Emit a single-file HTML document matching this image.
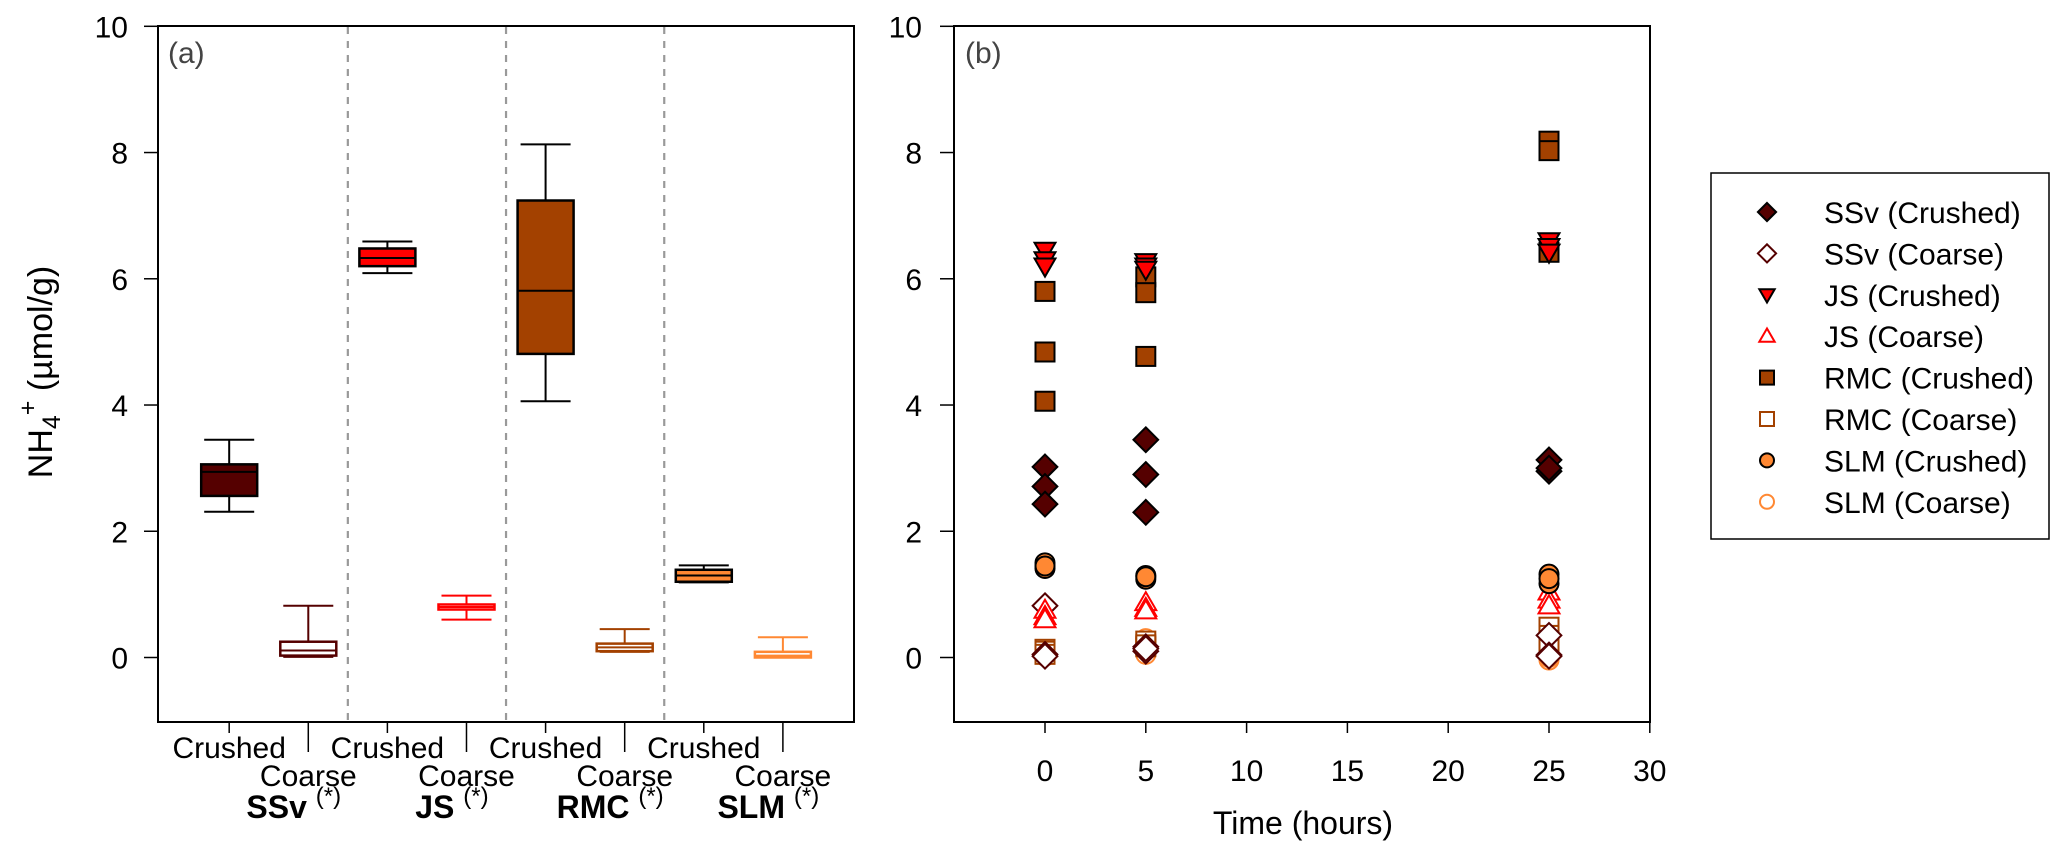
<!DOCTYPE html>
<html><head><meta charset="utf-8"><style>
html,body{margin:0;padding:0;background:#fff;}
svg{display:block;font-family:"Liberation Sans",sans-serif;}
</style></head><body>
<svg id="chart" width="2067" height="859" viewBox="0 0 2067 859" xmlns="http://www.w3.org/2000/svg">
<rect x="0" y="0" width="2067" height="859" fill="#fff"/>
<g id="pa"></g>
<g id="pb"></g>
<g id="lg"></g>
</svg>
<script>
// ---- data ----
const groups = ["SSv", "JS", "RMC", "SLM"];
const sizes = ["Crushed", "Coarse"];
const boxColors = ["#550000", "#550000", "#ff0000", "#ff0000", "#a34100", "#a34100", "#ff8833", "#ff8833"];
const boxLow =  [2.31, 0.01, 6.09, 0.60, 4.06, 0.09, 1.19, 0.00];
const boxQ1 =   [2.56, 0.03, 6.20, 0.76, 4.81, 0.10, 1.20, 0.00];
const boxMed =  [2.94, 0.11, 6.33, 0.80, 5.81, 0.16, 1.30, 0.03];
const boxQ3 =   [3.06, 0.25, 6.48, 0.84, 7.24, 0.22, 1.39, 0.09];
const boxHigh = [3.45, 0.82, 6.59, 0.98, 8.13, 0.45, 1.46, 0.32];
const yTicks = [0, 2, 4, 6, 8, 10];
const xTicksB = [0, 5, 10, 15, 20, 25, 30];
const times = [0, 5, 25];
const seriesNames = ["SSv (Crushed)", "SSv (Coarse)", "JS (Crushed)", "JS (Coarse)", "RMC (Crushed)", "RMC (Coarse)", "SLM (Crushed)", "SLM (Coarse)"];
const seriesShape = ["diamond", "diamond", "tridown", "triup", "square", "square", "circle", "circle"];
const seriesFilled = [true, false, true, false, true, false, true, false];
const ssvCrushed = [[3.02, 2.71, 2.43], [3.45, 2.90, 2.30], [3.13, 2.95, 3.00]];
const ssvCoarse = [[0.82, 0.05, 0.02], [0.17, 0.10, 0.14], [0.35, 0.04, 0.02]];
const jsCrushed = [[6.45, 6.30, 6.20], [6.27, 6.20, 6.15], [6.60, 6.51, 6.42]];
const jsCoarse = [[0.75, 0.65, 0.60], [0.87, 0.78, 0.74], [1.04, 0.91, 0.82]];
const rmcCrushed = [[5.80, 4.84, 4.06], [6.03, 5.78, 4.77], [8.18, 8.03, 6.42]];
const rmcCoarse = [[0.13, 0.10, 0.05], [0.26, 0.17, 0.20], [0.48, 0.35, 0.20]];
const slmCrushed = [[1.50, 1.41, 1.45], [1.30, 1.24, 1.28], [1.32, 1.17, 1.25]];
const slmCoarse = [[0.05, 0.03, 0.02], [0.30, 0.17, 0.05], [-0.04, 0.00, 0.02]];
const seriesValues = [ssvCrushed, ssvCoarse, jsCrushed, jsCoarse, rmcCrushed, rmcCoarse, slmCrushed, slmCoarse];

// ---- scales ----
const NS = "http://www.w3.org/2000/svg";
const yS = v => 657.5 - v * 63.12;
const xA = i => 158 + (i + 1 - 0.1) * 79.1;
const xB = t => 1045 + t * 20.16;
function mk(tag, attrs, parent) {
  const e = document.createElementNS(NS, tag);
  for (const k in attrs) e.setAttribute(k, attrs[k]);
  parent.appendChild(e);
  return e;
}
const pa = document.getElementById('pa');
const pb = document.getElementById('pb');
const lg = document.getElementById('lg');

function yAxis(parent, left, labelRight) {
  yTicks.forEach(v => {
    const t = mk('line', {x1: left - 14, x2: left, y1: yS(v), y2: yS(v), stroke: '#000', 'stroke-width': 1.5}, parent);
    
    
    const l = mk('text', {x: labelRight, y: yS(v) + 11, 'text-anchor': 'end', 'font-size': 30, fill: '#000'}, parent);
    l.textContent = v;
    
    
  });
}

// ---- Panel A ----
const frameA = mk('rect', {x: 158, y: 26, width: 696, height: 696, fill: 'none', stroke: '#000', 'stroke-width': 2}, pa);


yAxis(pa, 158, 128);
[1.5, 3.5, 5.5].forEach(p => {
  const d = mk('line', {x1: xA(p), x2: xA(p), y1: 27, y2: 721, stroke: '#999', 'stroke-width': 2.2, 'stroke-dasharray': '7,7'}, pa);
  
  
});
const la = mk('text', {x: 168, y: 63, 'font-size': 30, fill: '#444'}, pa);
la.textContent = '(a)';



boxLow.forEach((lo, i) => {
  const g = mk('g', {}, pa);
  
  
  const cx = xA(i), c = boxColors[i], filled = i % 2 === 0;
  const line = filled ? '#000' : c;
  const hw = 28, cw = 25;
  mk('line', {x1: cx, x2: cx, y1: yS(boxHigh[i]), y2: yS(boxQ3[i]), stroke: line, 'stroke-width': 2}, g);
  mk('line', {x1: cx, x2: cx, y1: yS(boxQ1[i]), y2: yS(lo), stroke: line, 'stroke-width': 2}, g);
  mk('line', {x1: cx - cw, x2: cx + cw, y1: yS(boxHigh[i]), y2: yS(boxHigh[i]), stroke: line, 'stroke-width': 2}, g);
  mk('line', {x1: cx - cw, x2: cx + cw, y1: yS(lo), y2: yS(lo), stroke: line, 'stroke-width': 2}, g);
  mk('rect', {x: cx - hw, y: yS(boxQ3[i]), width: 2 * hw, height: Math.max(1, yS(boxQ1[i]) - yS(boxQ3[i])), fill: filled ? c : '#fff', stroke: line, 'stroke-width': 2.5}, g);
  mk('line', {x1: cx - hw, x2: cx + hw, y1: yS(boxMed[i]), y2: yS(boxMed[i]), stroke: line, 'stroke-width': 2}, g);
});
for (let i = 0; i < 8; i++) {
  const crushed = i % 2 === 0;
  const t = mk('line', {x1: xA(i), x2: xA(i), y1: 722, y2: crushed ? 733 : 752, stroke: '#000', 'stroke-width': 1.5}, pa);
  
  
  const l = mk('text', {x: xA(i), y: crushed ? 758 : 786, 'text-anchor': 'middle', 'font-size': 30, fill: '#000'}, pa);
  l.textContent = sizes[i % 2];
  
  
}
groups.forEach((gname, k) => {
  const mid = (xA(2 * k) + xA(2 * k + 1)) / 2 + 25;
  const t = mk('text', {x: mid, y: 818, 'text-anchor': 'middle', 'font-size': 32, fill: '#000'}, pa);
  
  
  const b = mk('tspan', {'font-weight': 'bold'}, t);
  b.textContent = gname + ' ';
  const s = mk('tspan', {'font-size': 24, dy: -14}, t);
  s.textContent = '(*)';
});
const yt = mk('text', {x: 0, y: 0, transform: 'translate(52,372) rotate(-90)', 'text-anchor': 'middle', 'font-size': 34, fill: '#000'}, pa);


mk('tspan', {}, yt).textContent = 'NH';
mk('tspan', {'font-size': 25, dy: 8}, yt).textContent = '4';
mk('tspan', {'font-size': 25, dy: -24}, yt).textContent = '+';
mk('tspan', {dy: 16}, yt).textContent = ' (µmol/g)';

// ---- Panel B ----
const frameB = mk('rect', {x: 954, y: 26, width: 696, height: 696, fill: 'none', stroke: '#000', 'stroke-width': 2}, pb);


yAxis(pb, 954, 922);
const lb = mk('text', {x: 965, y: 63, 'font-size': 30, fill: '#444'}, pb);
lb.textContent = '(b)';


xTicksB.forEach(v => {
  const t = mk('line', {x1: xB(v), x2: xB(v), y1: 722, y2: 733, stroke: '#000', 'stroke-width': 1.5}, pb);
  
  
  const l = mk('text', {x: xB(v), y: 781, 'text-anchor': 'middle', 'font-size': 30, fill: '#000'}, pb);
  l.textContent = v;
  
  
});
const xt = mk('text', {x: 1303, y: 834, 'text-anchor': 'middle', 'font-size': 32, fill: '#000'}, pb);
xt.textContent = 'Time (hours)';



function marker(parent, shape, cx, cy, sz, color, filled, sw) {
  const fill = filled ? color : '#fff';
  const stroke = filled ? '#000' : color;
  const h = sz / 2;
  let e;
  if (shape === 'diamond') e = mk('polygon', {points: `${cx},${cy - h * 1.3} ${cx + h * 1.3},${cy} ${cx},${cy + h * 1.3} ${cx - h * 1.3},${cy}`}, parent);
  else if (shape === 'square') e = mk('rect', {x: cx - h, y: cy - h, width: sz, height: sz}, parent);
  else if (shape === 'circle') e = mk('circle', {cx: cx, cy: cy, r: h}, parent);
  else if (shape === 'triup') e = mk('polygon', {points: `${cx},${cy - h * 1.1} ${cx + h * 1.1},${cy + h * 0.8} ${cx - h * 1.1},${cy + h * 0.8}`}, parent);
  else e = mk('polygon', {points: `${cx},${cy + h * 1.1} ${cx + h * 1.1},${cy - h * 0.8} ${cx - h * 1.1},${cy - h * 0.8}`}, parent);
  e.setAttribute('fill', fill);
  e.setAttribute('stroke', stroke);
  e.setAttribute('stroke-width', sw);
  return e;
}
const order = [7, 5, 1, 3, 6, 0, 4, 2];
order.forEach(s => {
  const g = mk('g', {}, pb);
  
  
  seriesValues[s].forEach((reps, ti) => {
    reps.forEach(v => {
      const m = marker(g, seriesShape[s], xB(times[ti]), yS(v), 19, boxColors[s], seriesFilled[s], 2);
      
      
    });
  });
});

// ---- Legend ----
const lf = mk('rect', {x: 1711, y: 173, width: 338, height: 366, fill: '#fff', stroke: '#000', 'stroke-width': 1.5}, lg);


seriesNames.forEach((n, s) => {
  const y = 212 + s * 41.4;
  const g = mk('g', {}, lg);
  
  
  marker(g, seriesShape[s], 1767, y, 14, boxColors[s], seriesFilled[s], 2);
  const t = mk('text', {x: 1824, y: y + 11, 'font-size': 30, fill: '#000'}, g);
  t.textContent = n;
});
</script>
</body></html>
